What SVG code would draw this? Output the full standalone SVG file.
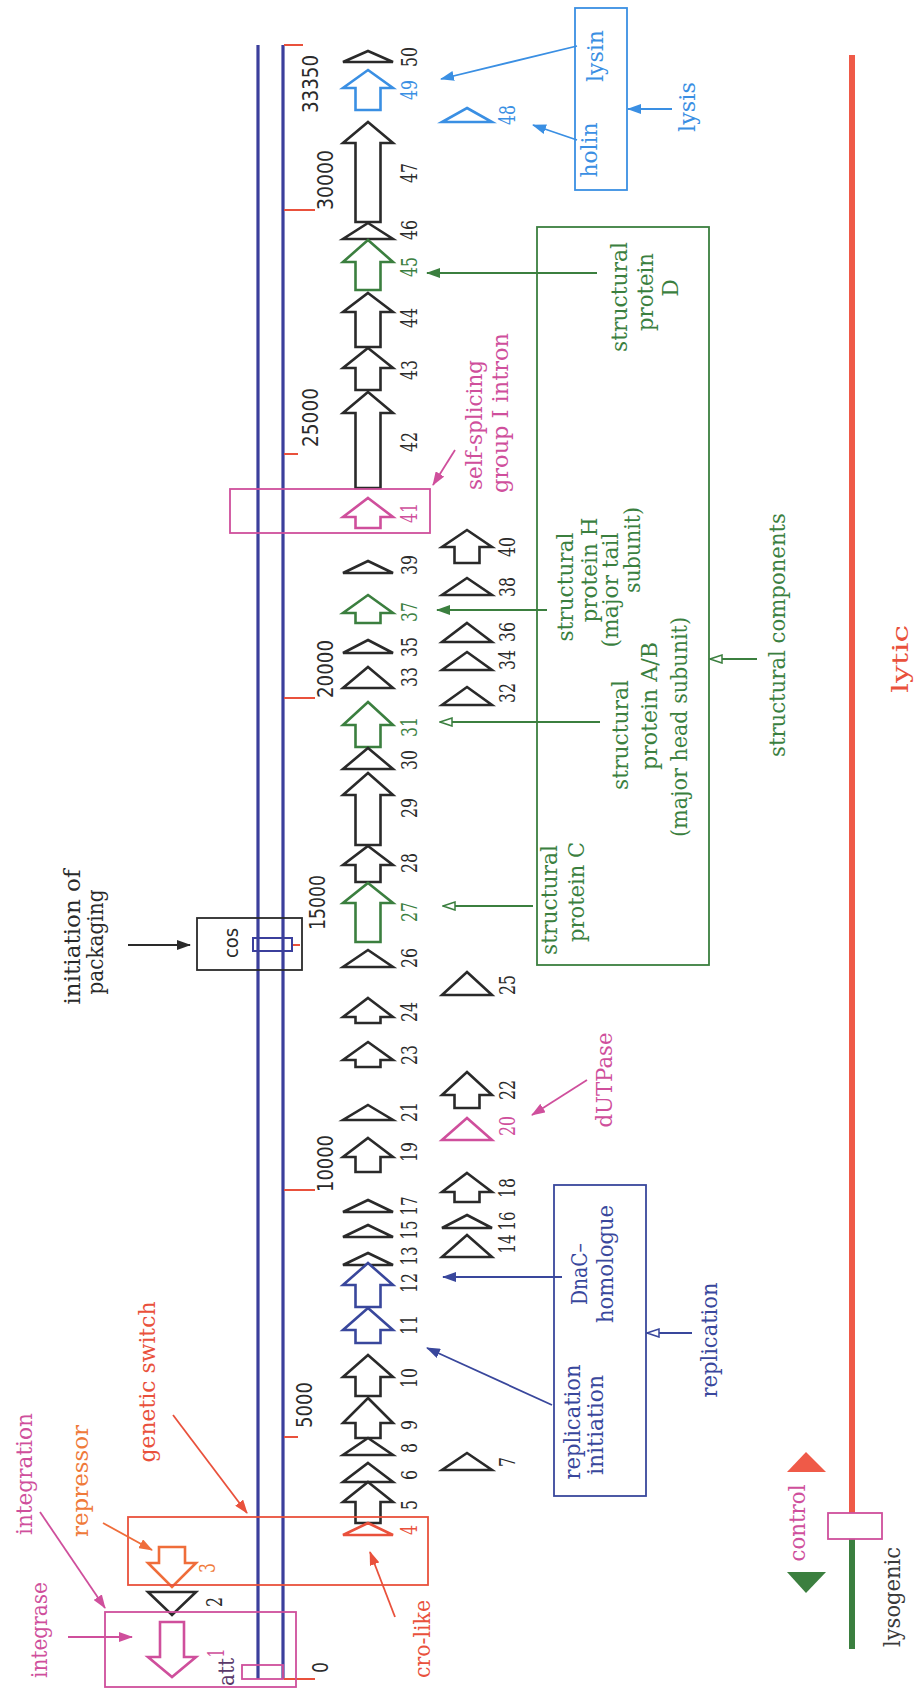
<svg xmlns="http://www.w3.org/2000/svg" width="914" height="1689" viewBox="0 0 914 1689">
<style>
.lab{font-family:"DejaVu Serif","Liberation Serif",serif;font-size:22px}
.num{font-family:"DejaVu Serif","Liberation Serif",serif;font-size:22px}
.tick{font-family:"DejaVu Sans","Liberation Sans",sans-serif;font-size:22px;fill:#2a2a2a}
.g{fill:#fff;stroke:#2a2a2a;stroke-width:2.6;stroke-linejoin:miter}
.gg{fill:#fff;stroke:#3b7f3f;stroke-width:2.6}
.gb{fill:#fff;stroke:#3a8fe3;stroke-width:2.6}
.gd{fill:#fff;stroke:#39479c;stroke-width:2.6}
.gm{fill:#fff;stroke:#cf4f9c;stroke-width:2.6}
.gr{fill:#fff;stroke:#e9513c;stroke-width:2.6}
.go{fill:#fff;stroke:#ef6d3a;stroke-width:2.6}
.k{fill:#2a2a2a}.cg{fill:#3b7f3f}.cb{fill:#3a8fe3}.cd{fill:#39479c}.cm{fill:#cf4f9c}.cr{fill:#e9513c}.co{fill:#ef7a3a}
.c{fill:none;stroke-width:1.8}
</style>
<defs>
<marker id="aK" markerUnits="userSpaceOnUse" markerWidth="14" markerHeight="10" viewBox="0 0 14 10" refX="13" refY="5" orient="auto"><path d="M0,0 L14,5 L0,10 z" fill="#2a2a2a"/></marker>
<marker id="aG" markerUnits="userSpaceOnUse" markerWidth="14" markerHeight="10" viewBox="0 0 14 10" refX="13" refY="5" orient="auto"><path d="M0,0 L14,5 L0,10 z" fill="#3b7f3f"/></marker>
<marker id="aGh" markerUnits="userSpaceOnUse" markerWidth="14" markerHeight="10" viewBox="0 0 14 10" refX="13" refY="5" orient="auto"><path d="M1,1 L13,5 L1,9 z" fill="#fff" stroke="#3b7f3f" stroke-width="1.5"/></marker>
<marker id="aB" markerUnits="userSpaceOnUse" markerWidth="14" markerHeight="10" viewBox="0 0 14 10" refX="13" refY="5" orient="auto"><path d="M0,0 L14,5 L0,10 z" fill="#3a8fe3"/></marker>
<marker id="aD" markerUnits="userSpaceOnUse" markerWidth="14" markerHeight="10" viewBox="0 0 14 10" refX="13" refY="5" orient="auto"><path d="M0,0 L14,5 L0,10 z" fill="#39479c"/></marker>
<marker id="aDh" markerUnits="userSpaceOnUse" markerWidth="14" markerHeight="10" viewBox="0 0 14 10" refX="13" refY="5" orient="auto"><path d="M1,1 L13,5 L1,9 z" fill="#fff" stroke="#39479c" stroke-width="1.5"/></marker>
<marker id="aM" markerUnits="userSpaceOnUse" markerWidth="14" markerHeight="10" viewBox="0 0 14 10" refX="13" refY="5" orient="auto"><path d="M0,0 L14,5 L0,10 z" fill="#cf4f9c"/></marker>
<marker id="aR" markerUnits="userSpaceOnUse" markerWidth="14" markerHeight="10" viewBox="0 0 14 10" refX="13" refY="5" orient="auto"><path d="M0,0 L14,5 L0,10 z" fill="#e9513c"/></marker>
<marker id="aO" markerUnits="userSpaceOnUse" markerWidth="14" markerHeight="10" viewBox="0 0 14 10" refX="13" refY="5" orient="auto"><path d="M0,0 L14,5 L0,10 z" fill="#ef6d3a"/></marker>
</defs>
<rect width="914" height="1689" fill="#fff"/>

<g id="genome-axis">
<line x1="258" y1="45" x2="258" y2="1679" stroke="#3b3f9c" stroke-width="3.2"/>
<line x1="283" y1="45" x2="283" y2="1679" stroke="#3b3f9c" stroke-width="3.2"/>
<g stroke="#e9513c" stroke-width="2">
<line x1="284" y1="45" x2="303" y2="45"/>
<line x1="284" y1="210" x2="315" y2="210"/>
<line x1="284" y1="454" x2="298" y2="454"/>
<line x1="284" y1="698" x2="315" y2="698"/>
<line x1="284" y1="1190" x2="315" y2="1190"/>
<line x1="284" y1="1437" x2="298" y2="1437"/>
<line x1="284" y1="1679" x2="315" y2="1679"/>
<line x1="292" y1="945" x2="300" y2="945"/>
</g>
<text class="tick" x="318" y="113" transform="rotate(-90 318 113)" textLength="58" lengthAdjust="spacingAndGlyphs">33350</text>
<text class="tick" x="333" y="210" transform="rotate(-90 333 210)" textLength="60" lengthAdjust="spacingAndGlyphs">30000</text>
<text class="tick" x="318" y="447" transform="rotate(-90 318 447)" textLength="59" lengthAdjust="spacingAndGlyphs">25000</text>
<text class="tick" x="333" y="698" transform="rotate(-90 333 698)" textLength="58" lengthAdjust="spacingAndGlyphs">20000</text>
<text class="tick" x="325" y="930" transform="rotate(-90 325 930)" textLength="55" lengthAdjust="spacingAndGlyphs">15000</text>
<text class="tick" x="333" y="1192" transform="rotate(-90 333 1192)" textLength="57" lengthAdjust="spacingAndGlyphs">10000</text>
<text class="tick" x="312" y="1428" transform="rotate(-90 312 1428)" textLength="46" lengthAdjust="spacingAndGlyphs">5000</text>
<text class="tick" x="328" y="1673" transform="rotate(-90 328 1673)" textLength="11" lengthAdjust="spacingAndGlyphs">0</text>
</g>

<g id="genes" class="num">
<polygon class="g" points="368,51 393,62 343,62"/>
<polygon class="gb" points="368,70 393,88 380.5,88 380.5,110 355.5,110 355.5,88 343,88"/>
<polygon class="g" points="368,122 393,143 380.5,143 380.5,222 355.5,222 355.5,143 343,143"/>
<polygon class="g" points="368,223 393,239 343,239"/>
<polygon class="gg" points="368,240 393,262 380.5,262 380.5,290 355.5,290 355.5,262 343,262"/>
<polygon class="g" points="368,293 393,312 380.5,312 380.5,347 355.5,347 355.5,312 343,312"/>
<polygon class="g" points="368,348 393,368 380.5,368 380.5,390 355.5,390 355.5,368 343,368"/>
<polygon class="g" points="368,392 393,413 380.5,413 380.5,488 355.5,488 355.5,413 343,413"/>
<polygon class="gm" points="368,498 393,517 380.5,517 380.5,528 355.5,528 355.5,517 343,517"/>
<polygon class="g" points="368,561 393,573 343,573"/>
<polygon class="gg" points="368,595 393,613 380.5,613 380.5,623 355.5,623 355.5,613 343,613"/>
<polygon class="g" points="368,640 393,653 343,653"/>
<polygon class="g" points="368,667 393,688 343,688"/>
<polygon class="gg" points="368,702 393,725 380.5,725 380.5,747 355.5,747 355.5,725 343,725"/>
<polygon class="g" points="368,748 393,769 343,769"/>
<polygon class="g" points="368,773 393,795 380.5,795 380.5,845 355.5,845 355.5,795 343,795"/>
<polygon class="g" points="368,846 393,865 380.5,865 380.5,882 355.5,882 355.5,865 343,865"/>
<polygon class="gg" points="368,883 393,903 380.5,903 380.5,942 355.5,942 355.5,903 343,903"/>
<polygon class="g" points="368,950 393,967 343,967"/>
<polygon class="g" points="368,998 393,1017 380.5,1017 380.5,1023 355.5,1023 355.5,1017 343,1017"/>
<polygon class="g" points="368,1042 393,1060 380.5,1060 380.5,1067 355.5,1067 355.5,1060 343,1060"/>
<polygon class="g" points="368,1105 393,1120 343,1120"/>
<polygon class="g" points="368,1138 393,1157 380.5,1157 380.5,1172 355.5,1172 355.5,1157 343,1157"/>
<polygon class="g" points="368,1200 393,1212 343,1212"/>
<polygon class="g" points="368,1225 393,1237 343,1237"/>
<polygon class="g" points="368,1253 393,1265 343,1265"/>
<polygon class="gd" points="368,1263 393,1285 380.5,1285 380.5,1307 355.5,1307 355.5,1285 343,1285"/>
<polygon class="gd" points="368,1308 393,1330 380.5,1330 380.5,1343 355.5,1343 355.5,1330 343,1330"/>
<polygon class="g" points="368,1355 393,1377 380.5,1377 380.5,1396 355.5,1396 355.5,1377 343,1377"/>
<polygon class="g" points="368,1398 393,1423 380.5,1423 380.5,1438 355.5,1438 355.5,1423 343,1423"/>
<polygon class="g" points="368,1438 393,1455 343,1455"/>
<polygon class="g" points="368,1463 393,1482 343,1482"/>
<polygon class="g" points="368,1482 393,1502 380.5,1502 380.5,1523 355.5,1523 355.5,1502 343,1502"/>
<polygon class="gr" points="368,1523 393,1535 343,1535"/>
<polygon class="gb" points="467,108 492,122 442,122"/>
<polygon class="g" points="467,530 492,547 479.5,547 479.5,563 454.5,563 454.5,547 442,547"/>
<polygon class="g" points="467,578 492,595 442,595"/>
<polygon class="g" points="467,623 492,642 442,642"/>
<polygon class="g" points="467,652 492,670 442,670"/>
<polygon class="g" points="467,687 492,705 442,705"/>
<polygon class="g" points="467,972 492,995 442,995"/>
<polygon class="g" points="467,1072 492,1095 479.5,1095 479.5,1108 454.5,1108 454.5,1095 442,1095"/>
<polygon class="gm" points="467,1118 492,1140 442,1140"/>
<polygon class="g" points="467,1173 492,1192 479.5,1192 479.5,1202 454.5,1202 454.5,1192 442,1192"/>
<polygon class="g" points="467,1215 492,1228 442,1228"/>
<polygon class="g" points="467,1235 492,1257 442,1257"/>
<polygon class="g" points="467,1453 492,1470 442,1470"/>
<polygon class="go" points="159,1547 185,1547 185,1563 196,1563 172,1587 148,1563 159,1563"/>
<polygon class="g" points="148,1592 196,1592 172,1615"/>
<polygon class="gm" points="160,1622 184,1622 184,1657 196,1657 172,1677 148,1657 160,1657"/>
<g text-anchor="middle">
<text class="k" x="417" y="57" transform="rotate(-90 417 57)" textLength="20" lengthAdjust="spacingAndGlyphs">50</text>
<text class="cb" x="417" y="90" transform="rotate(-90 417 90)" textLength="20" lengthAdjust="spacingAndGlyphs">49</text>
<text class="k" x="417" y="173" transform="rotate(-90 417 173)" textLength="20" lengthAdjust="spacingAndGlyphs">47</text>
<text class="k" x="417" y="230" transform="rotate(-90 417 230)" textLength="20" lengthAdjust="spacingAndGlyphs">46</text>
<text class="cg" x="417" y="267" transform="rotate(-90 417 267)" textLength="20" lengthAdjust="spacingAndGlyphs">45</text>
<text class="k" x="417" y="318" transform="rotate(-90 417 318)" textLength="20" lengthAdjust="spacingAndGlyphs">44</text>
<text class="k" x="417" y="370" transform="rotate(-90 417 370)" textLength="20" lengthAdjust="spacingAndGlyphs">43</text>
<text class="k" x="417" y="442" transform="rotate(-90 417 442)" textLength="20" lengthAdjust="spacingAndGlyphs">42</text>
<text class="cm" x="417" y="513" transform="rotate(-90 417 513)" textLength="20" lengthAdjust="spacingAndGlyphs">41</text>
<text class="k" x="417" y="565" transform="rotate(-90 417 565)" textLength="20" lengthAdjust="spacingAndGlyphs">39</text>
<text class="cg" x="417" y="612" transform="rotate(-90 417 612)" textLength="20" lengthAdjust="spacingAndGlyphs">37</text>
<text class="k" x="417" y="647" transform="rotate(-90 417 647)" textLength="20" lengthAdjust="spacingAndGlyphs">35</text>
<text class="k" x="417" y="677" transform="rotate(-90 417 677)" textLength="20" lengthAdjust="spacingAndGlyphs">33</text>
<text class="cg" x="417" y="727" transform="rotate(-90 417 727)" textLength="20" lengthAdjust="spacingAndGlyphs">31</text>
<text class="k" x="417" y="760" transform="rotate(-90 417 760)" textLength="20" lengthAdjust="spacingAndGlyphs">30</text>
<text class="k" x="417" y="808" transform="rotate(-90 417 808)" textLength="20" lengthAdjust="spacingAndGlyphs">29</text>
<text class="k" x="417" y="863" transform="rotate(-90 417 863)" textLength="20" lengthAdjust="spacingAndGlyphs">28</text>
<text class="cg" x="417" y="912" transform="rotate(-90 417 912)" textLength="20" lengthAdjust="spacingAndGlyphs">27</text>
<text class="k" x="417" y="958" transform="rotate(-90 417 958)" textLength="20" lengthAdjust="spacingAndGlyphs">26</text>
<text class="k" x="417" y="1012" transform="rotate(-90 417 1012)" textLength="20" lengthAdjust="spacingAndGlyphs">24</text>
<text class="k" x="417" y="1055" transform="rotate(-90 417 1055)" textLength="20" lengthAdjust="spacingAndGlyphs">23</text>
<text class="k" x="417" y="1112" transform="rotate(-90 417 1112)" textLength="20" lengthAdjust="spacingAndGlyphs">21</text>
<text class="k" x="417" y="1152" transform="rotate(-90 417 1152)" textLength="20" lengthAdjust="spacingAndGlyphs">19</text>
<text class="k" x="417" y="1206" transform="rotate(-90 417 1206)" textLength="19" lengthAdjust="spacingAndGlyphs">17</text>
<text class="k" x="417" y="1230" transform="rotate(-90 417 1230)" textLength="19" lengthAdjust="spacingAndGlyphs">15</text>
<text class="k" x="417" y="1256" transform="rotate(-90 417 1256)" textLength="19" lengthAdjust="spacingAndGlyphs">13</text>
<text class="k" x="417" y="1283" transform="rotate(-90 417 1283)" textLength="20" lengthAdjust="spacingAndGlyphs">12</text>
<text class="k" x="417" y="1325" transform="rotate(-90 417 1325)" textLength="20" lengthAdjust="spacingAndGlyphs">11</text>
<text class="k" x="417" y="1378" transform="rotate(-90 417 1378)" textLength="20" lengthAdjust="spacingAndGlyphs">10</text>
<text class="k" x="417" y="1425" transform="rotate(-90 417 1425)" textLength="10" lengthAdjust="spacingAndGlyphs">9</text>
<text class="k" x="417" y="1448" transform="rotate(-90 417 1448)" textLength="10" lengthAdjust="spacingAndGlyphs">8</text>
<text class="k" x="417" y="1475" transform="rotate(-90 417 1475)" textLength="10" lengthAdjust="spacingAndGlyphs">6</text>
<text class="k" x="417" y="1505" transform="rotate(-90 417 1505)" textLength="10" lengthAdjust="spacingAndGlyphs">5</text>
<text class="cr" x="417" y="1530" transform="rotate(-90 417 1530)" textLength="10" lengthAdjust="spacingAndGlyphs">4</text>
<text class="cb" x="515" y="115" transform="rotate(-90 515 115)" textLength="20" lengthAdjust="spacingAndGlyphs">48</text>
<text class="k" x="515" y="547" transform="rotate(-90 515 547)" textLength="20" lengthAdjust="spacingAndGlyphs">40</text>
<text class="k" x="515" y="587" transform="rotate(-90 515 587)" textLength="20" lengthAdjust="spacingAndGlyphs">38</text>
<text class="k" x="515" y="632" transform="rotate(-90 515 632)" textLength="20" lengthAdjust="spacingAndGlyphs">36</text>
<text class="k" x="515" y="660" transform="rotate(-90 515 660)" textLength="20" lengthAdjust="spacingAndGlyphs">34</text>
<text class="k" x="515" y="693" transform="rotate(-90 515 693)" textLength="20" lengthAdjust="spacingAndGlyphs">32</text>
<text class="k" x="515" y="985" transform="rotate(-90 515 985)" textLength="20" lengthAdjust="spacingAndGlyphs">25</text>
<text class="k" x="515" y="1090" transform="rotate(-90 515 1090)" textLength="20" lengthAdjust="spacingAndGlyphs">22</text>
<text class="cm" x="515" y="1126" transform="rotate(-90 515 1126)" textLength="20" lengthAdjust="spacingAndGlyphs">20</text>
<text class="k" x="515" y="1188" transform="rotate(-90 515 1188)" textLength="20" lengthAdjust="spacingAndGlyphs">18</text>
<text class="k" x="515" y="1221" transform="rotate(-90 515 1221)" textLength="19" lengthAdjust="spacingAndGlyphs">16</text>
<text class="k" x="515" y="1244" transform="rotate(-90 515 1244)" textLength="19" lengthAdjust="spacingAndGlyphs">14</text>
<text class="k" x="515" y="1462" transform="rotate(-90 515 1462)" textLength="10" lengthAdjust="spacingAndGlyphs">7</text>
<text class="co" x="215" y="1568" transform="rotate(-90 215 1568)" textLength="10" lengthAdjust="spacingAndGlyphs">3</text>
<text class="k" x="222" y="1602" transform="rotate(-90 222 1602)" textLength="10" lengthAdjust="spacingAndGlyphs">2</text>
<text class="cm" x="224" y="1653" transform="rotate(-90 224 1653)" textLength="9" lengthAdjust="spacingAndGlyphs">1</text>
</g>
</g>

<g id="integrase-box">
<rect x="105" y="1612" width="191" height="75" fill="none" stroke="#cf4f9c" stroke-width="1.8"/>
<rect x="242" y="1665" width="41" height="14" fill="none" stroke="#cf4f9c" stroke-width="1.8"/>
<text class="lab" x="234" y="1672" transform="rotate(-90 234 1672)" text-anchor="middle" fill="#5a3a6a" textLength="28" lengthAdjust="spacingAndGlyphs">att</text>
</g>

<g id="genetic-switch-box">
<rect x="128" y="1517" width="300" height="68" fill="none" stroke="#e9513c" stroke-width="1.8"/>
</g>

<g id="intron-box">
<rect x="230" y="489" width="200" height="44" fill="none" stroke="#cf4f9c" stroke-width="1.8"/>
</g>

<g id="cos-box">
<rect x="197" y="918" width="105" height="52" fill="none" stroke="#2a2a2a" stroke-width="1.8"/>
<rect x="253" y="938" width="39" height="13" fill="none" stroke="#3b3f9c" stroke-width="2"/>
<text x="238" y="943" transform="rotate(-90 238 943)" text-anchor="middle" font-family="DejaVu Sans, Liberation Sans, sans-serif" font-size="19" fill="#2a2a2a" textLength="30" lengthAdjust="spacingAndGlyphs">cos</text>
</g>

<g id="packaging-label">
<text class="lab k" x="80" y="937" transform="rotate(-90 80 937)" text-anchor="middle" textLength="135" lengthAdjust="spacingAndGlyphs">initiation of</text>
<text class="lab k" x="103" y="942" transform="rotate(-90 103 942)" text-anchor="middle" textLength="105" lengthAdjust="spacingAndGlyphs">packaging</text>
</g>

<g id="lysis-box">
<rect x="575" y="8" width="52" height="182" fill="none" stroke="#3a8fe3" stroke-width="1.8"/>
<text class="lab cb" x="603" y="56" transform="rotate(-90 603 56)" text-anchor="middle" textLength="52" lengthAdjust="spacingAndGlyphs">lysin</text>
<text class="lab cb" x="597" y="150" transform="rotate(-90 597 150)" text-anchor="middle" textLength="55" lengthAdjust="spacingAndGlyphs">holin</text>
</g>
<g id="lysis-label">
<text class="lab cb" x="695" y="107" transform="rotate(-90 695 107)" text-anchor="middle" textLength="50" lengthAdjust="spacingAndGlyphs">lysis</text>
</g>

<g id="structural-box">
<rect x="537" y="227" width="172" height="738" fill="none" stroke="#3b7f3f" stroke-width="1.8"/>
<g class="lab cg" text-anchor="middle">
<text x="627" y="297" transform="rotate(-90 627 297)" textLength="110" lengthAdjust="spacingAndGlyphs">structural</text>
<text x="653" y="292" transform="rotate(-90 653 292)" textLength="78" lengthAdjust="spacingAndGlyphs">protein</text>
<text x="678" y="288" transform="rotate(-90 678 288)">D</text>
<text x="573" y="587" transform="rotate(-90 573 587)" textLength="109" lengthAdjust="spacingAndGlyphs">structural</text>
<text x="597" y="570" transform="rotate(-90 597 570)" textLength="105" lengthAdjust="spacingAndGlyphs">protein H</text>
<text x="618" y="590" transform="rotate(-90 618 590)" textLength="115" lengthAdjust="spacingAndGlyphs">(major tail</text>
<text x="640" y="550" transform="rotate(-90 640 550)" textLength="86" lengthAdjust="spacingAndGlyphs">subunit)</text>
<text x="628" y="735" transform="rotate(-90 628 735)" textLength="110" lengthAdjust="spacingAndGlyphs">structural</text>
<text x="657" y="706" transform="rotate(-90 657 706)" textLength="128" lengthAdjust="spacingAndGlyphs">protein A/B</text>
<text x="687" y="727" transform="rotate(-90 687 727)" textLength="220" lengthAdjust="spacingAndGlyphs">(major head subunit)</text>
<text x="557" y="900" transform="rotate(-90 557 900)" textLength="110" lengthAdjust="spacingAndGlyphs">structural</text>
<text x="584" y="892" transform="rotate(-90 584 892)" textLength="100" lengthAdjust="spacingAndGlyphs">protein C</text>
</g>
</g>
<g id="structural-label">
<text class="lab cg" x="785" y="635" transform="rotate(-90 785 635)" text-anchor="middle" textLength="244" lengthAdjust="spacingAndGlyphs">structural components</text>
</g>

<g id="intron-label" class="lab cm" text-anchor="middle">
<text x="482" y="425" transform="rotate(-90 482 425)" textLength="130" lengthAdjust="spacingAndGlyphs">self-splicing</text>
<text x="508" y="413" transform="rotate(-90 508 413)" textLength="160" lengthAdjust="spacingAndGlyphs">group I intron</text>
</g>

<g id="dutpase-label">
<text class="lab cm" x="612" y="1080" transform="rotate(-90 612 1080)" text-anchor="middle" textLength="95" lengthAdjust="spacingAndGlyphs">dUTPase</text>
</g>

<g id="replication-box">
<rect x="554" y="1185" width="92" height="311" fill="none" stroke="#39479c" stroke-width="1.8"/>
<g class="lab cd" text-anchor="middle">
<text x="587" y="1274" transform="rotate(-90 587 1274)" textLength="62" lengthAdjust="spacingAndGlyphs">DnaC–</text>
<text x="613" y="1264" transform="rotate(-90 613 1264)" textLength="118" lengthAdjust="spacingAndGlyphs">homologue</text>
<text x="580" y="1422" transform="rotate(-90 580 1422)" textLength="115" lengthAdjust="spacingAndGlyphs">replication</text>
<text x="603" y="1425" transform="rotate(-90 603 1425)" textLength="100" lengthAdjust="spacingAndGlyphs">initiation</text>
</g>
</g>
<g id="replication-label">
<text class="lab cd" x="717" y="1340" transform="rotate(-90 717 1340)" text-anchor="middle" textLength="115" lengthAdjust="spacingAndGlyphs">replication</text>
</g>

<g id="switch-labels" class="lab" text-anchor="middle">
<text class="cr" x="155" y="1382" transform="rotate(-90 155 1382)" textLength="161" lengthAdjust="spacingAndGlyphs">genetic switch</text>
<text class="co" x="88" y="1481" transform="rotate(-90 88 1481)" textLength="112" lengthAdjust="spacingAndGlyphs">repressor</text>
<text class="cm" x="32" y="1474" transform="rotate(-90 32 1474)" textLength="122" lengthAdjust="spacingAndGlyphs">integration</text>
<text class="cm" x="47" y="1630" transform="rotate(-90 47 1630)" textLength="96" lengthAdjust="spacingAndGlyphs">integrase</text>
<text class="cr" x="430" y="1639" transform="rotate(-90 430 1639)" textLength="78" lengthAdjust="spacingAndGlyphs">cro-like</text>
</g>

<g id="lifecycle">
<line x1="852" y1="55" x2="852" y2="1513" stroke="#ef5a48" stroke-width="6"/>
<line x1="852" y1="1539" x2="852" y2="1649" stroke="#3b7f3f" stroke-width="6"/>
<rect x="828" y="1513" width="54" height="26" fill="#fff" stroke="#cf4f9c" stroke-width="1.8"/>
<polygon points="806,1452 826,1472 787,1472" fill="#ef5a48"/>
<polygon points="787,1572 826,1572 806,1593" fill="#3b7f3f"/>
<text class="lab cm" x="805" y="1523" transform="rotate(-90 805 1523)" text-anchor="middle" textLength="77" lengthAdjust="spacingAndGlyphs">control</text>
<text class="lab" x="900" y="1597" transform="rotate(-90 900 1597)" text-anchor="middle" fill="#3a3a3a" textLength="100" lengthAdjust="spacingAndGlyphs">lysogenic</text>
<text class="lab cr" x="908" y="659" transform="rotate(-90 908 659)" text-anchor="middle" font-size="27" textLength="68" lengthAdjust="spacingAndGlyphs">lytic</text>
</g>

<g id="connectors" class="c">
<line x1="577" y1="46" x2="441" y2="79" stroke="#3a8fe3" marker-end="url(#aB)"/>
<line x1="577" y1="140" x2="533" y2="125" stroke="#3a8fe3" marker-end="url(#aB)"/>
<line x1="672" y1="109" x2="628" y2="109" stroke="#3a8fe3" marker-end="url(#aB)"/>
<line x1="597" y1="273" x2="427" y2="273" stroke="#3b7f3f" marker-end="url(#aG)"/>
<line x1="547" y1="610" x2="437" y2="610" stroke="#3b7f3f" marker-end="url(#aG)"/>
<line x1="600" y1="722" x2="440" y2="722" stroke="#3b7f3f" marker-end="url(#aGh)"/>
<line x1="533" y1="906" x2="443" y2="906" stroke="#3b7f3f" marker-end="url(#aGh)"/>
<line x1="757" y1="659" x2="710" y2="659" stroke="#3b7f3f" marker-end="url(#aGh)"/>
<line x1="455" y1="450" x2="433" y2="485" stroke="#cf4f9c" marker-end="url(#aM)"/>
<line x1="587" y1="1080" x2="532" y2="1115" stroke="#cf4f9c" marker-end="url(#aM)"/>
<line x1="552" y1="1405" x2="427" y2="1348" stroke="#39479c" marker-end="url(#aD)"/>
<line x1="562" y1="1277" x2="443" y2="1277" stroke="#39479c" marker-end="url(#aD)"/>
<line x1="692" y1="1333" x2="647" y2="1333" stroke="#39479c" marker-end="url(#aDh)"/>
<line x1="128" y1="945" x2="190" y2="945" stroke="#2a2a2a" marker-end="url(#aK)"/>
<line x1="173" y1="1415" x2="247" y2="1513" stroke="#e9513c" marker-end="url(#aR)"/>
<line x1="103" y1="1523" x2="152" y2="1550" stroke="#ef6d3a" marker-end="url(#aO)"/>
<line x1="40" y1="1512" x2="105" y2="1608" stroke="#cf4f9c" marker-end="url(#aM)"/>
<line x1="68" y1="1637" x2="132" y2="1637" stroke="#cf4f9c" marker-end="url(#aM)"/>
<line x1="395" y1="1617" x2="370" y2="1552" stroke="#e9513c" marker-end="url(#aR)"/>
</g>
</svg>
